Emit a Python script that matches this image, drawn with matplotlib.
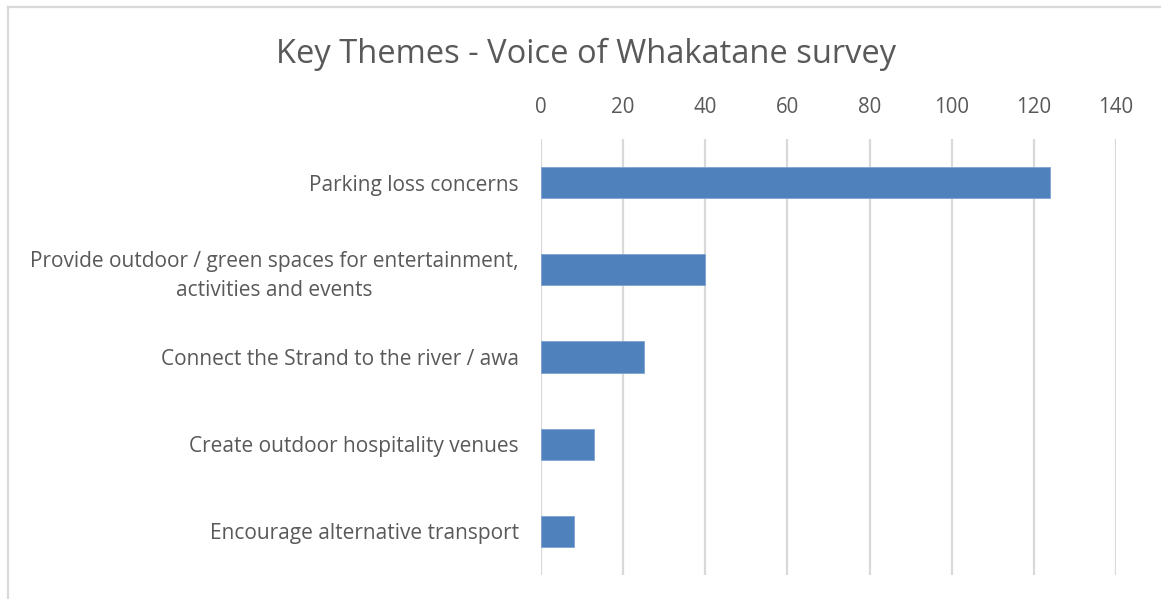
import matplotlib
matplotlib.use("Agg")
import matplotlib.pyplot as plt
from matplotlib.lines import Line2D

categories = [
    "Parking loss concerns",
    "Provide outdoor / green spaces for entertainment,\nactivities and events",
    "Connect the Strand to the river / awa",
    "Create outdoor hospitality venues",
    "Encourage alternative transport",
]
values = [124, 40, 25, 13, 8]
xticks = [0, 20, 40, 60, 80, 100, 120, 140]
title = "Key Themes - Voice of Whakatane survey"

plt.rcParams['font.family'] = ['Open Sans', 'DejaVu Sans']
txt = '#595959'
grid = '#d9d9d9'

fig = plt.figure(figsize=(11.61, 5.99), dpi=100)
ax = fig.add_axes([541/1161, 1-575/599, (1116-541)/1161, (575-139)/599])

y = list(range(len(categories)))
ax.barh(y, values, height=0.36, color='#4f81bd', edgecolor='#7ea3d3', linewidth=0.6, zorder=3)
ax.set_ylim(len(categories)-0.5, -0.5)
ax.set_xlim(0, 140)
ax.set_xticks(xticks)
ax.set_xticklabels([str(t) for t in xticks])
ax.set_yticks(y)
ax.set_yticklabels(categories, ha='right', multialignment='center', linespacing=1.45)
ax.xaxis.tick_top()
ax.tick_params(axis='x', length=0, pad=15, labelsize=14.8, colors=txt)
ax.tick_params(axis='y', length=0, pad=16, labelsize=15, colors=txt)
for s in ax.spines.values():
    s.set_visible(False)
ax.grid(axis='x', color=grid, linewidth=1.6, zorder=0)
ax.set_facecolor('white')

fig.text(586/1161, 1-54/599, title, ha='center', va='center', fontsize=23.5, color=txt)

fig.add_artist(Line2D([7.5/1161, 7.5/1161], [0, 1-6.5/599], color=grid, linewidth=1.6, transform=fig.transFigure))
fig.add_artist(Line2D([7.5/1161, 1], [1-6.5/599, 1-6.5/599], color=grid, linewidth=1.6, transform=fig.transFigure))

fig.savefig('out.png', dpi=100, facecolor='white')
